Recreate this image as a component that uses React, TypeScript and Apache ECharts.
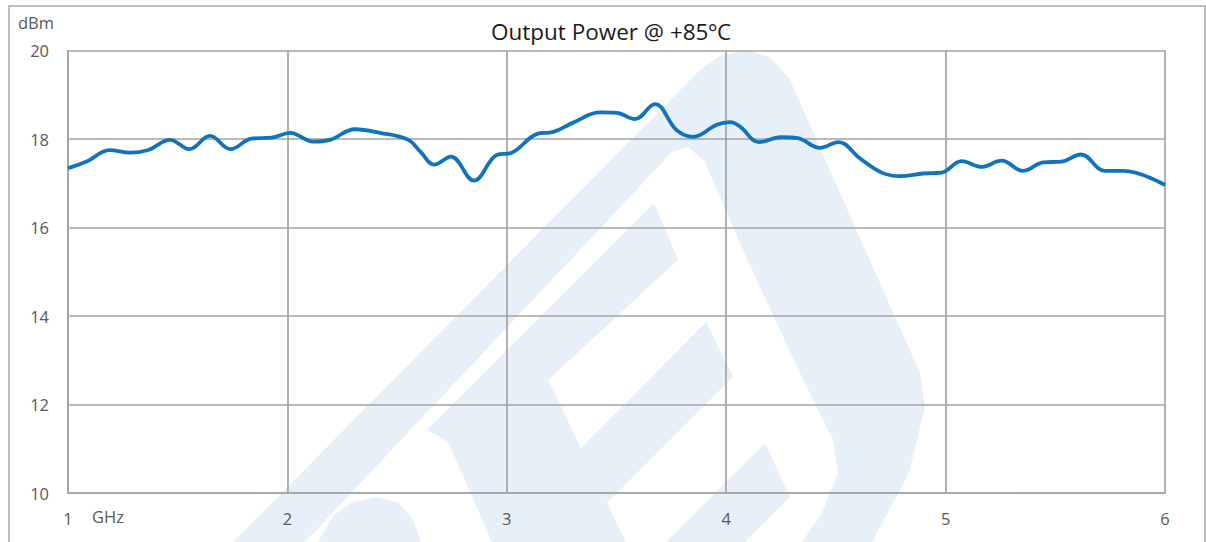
import React, { useEffect, useRef } from "react";
import * as echarts from "echarts";

const freqGHz = [
  1.0, 1.085, 1.19, 1.283, 1.366, 1.465, 1.553, 1.647, 1.741, 1.837, 1.928,
  2.012, 2.118, 2.194, 2.308, 2.422, 2.551, 2.605, 2.67, 2.745, 2.85, 2.954,
  3.022, 3.136, 3.212, 3.303, 3.425, 3.501, 3.584, 3.675, 3.774, 3.85, 3.957,
  4.017, 4.063, 4.15, 4.25, 4.325, 4.427, 4.511, 4.61, 4.709, 4.792, 4.898,
  4.982, 5.073, 5.164, 5.256, 5.351, 5.445, 5.529, 5.617, 5.726, 5.81, 6.0,
];
const powerDbm = [
  17.34, 17.49, 17.75, 17.69, 17.75, 17.98, 17.77, 18.07, 17.77, 18.01, 18.03,
  18.14, 17.94, 17.98, 18.22, 18.14, 17.98, 17.72, 17.42, 17.6, 17.06, 17.64,
  17.69, 18.11, 18.16, 18.37, 18.6, 18.59, 18.45, 18.79, 18.2, 18.05, 18.32,
  18.38, 18.28, 17.93, 18.04, 18.02, 17.8, 17.93, 17.56, 17.24, 17.16, 17.22,
  17.24, 17.5, 17.37, 17.51, 17.28, 17.47, 17.49, 17.65, 17.28, 17.28, 16.96,
];
const xTicks = [1, 2, 3, 4, 5, 6];
const yTicks = [10, 12, 14, 16, 18, 20];
const titleText = "Output Power @ +85ºC";
const yUnit = "dBm";
const xUnit = "GHz";

const FONT = "'Open Sans', 'Noto Sans', sans-serif";
const WM = "#e7eff8";
const LBL = 16.5;

export default function App() {
  const ref = useRef<HTMLDivElement>(null);
  useEffect(() => {
    document.body.style.margin = "0";
    if (!ref.current) return;
    const chart = echarts.init(ref.current, undefined, { renderer: "svg" });
    const data = freqGHz.map((f, i) => [f, powerDbm[i]]);
    chart.setOption({
      animation: false,
      backgroundColor: "#ffffff",
      title: {
        text: titleText,
        left: 606,
        top: 15,
        textAlign: "center",
        textStyle: { fontFamily: FONT, fontSize: 22.5, fontWeight: "normal", color: "#1a1a1a" },
      },
      grid: { left: 68, top: 50.5, right: 41, bottom: 49, containLabel: false },
      xAxis: {
        type: "value",
        min: xTicks[0],
        max: xTicks[xTicks.length - 1],
        interval: 1,
        axisLine: { show: true, lineStyle: { color: "#a3a3a3", width: 1.7 } },
        axisTick: { show: false },
        splitLine: { show: true, lineStyle: { color: "#a3a3a3", width: 1.7 } },
        axisLabel: { margin: 17, fontFamily: FONT, fontSize: LBL, color: "#595959" },
      },
      yAxis: {
        type: "value",
        min: yTicks[0],
        max: yTicks[yTicks.length - 1],
        interval: 2,
        axisLine: { show: true, lineStyle: { color: "#a3a3a3", width: 1.7 } },
        axisTick: { show: false },
        splitLine: { show: true, lineStyle: { color: "#a3a3a3", width: 1.7 } },
        axisLabel: { margin: 19, fontFamily: FONT, fontSize: LBL, color: "#595959" },
      },
      graphic: [
        {
          type: "rect",
          z: -10,
          silent: true,
          shape: { x: 9, y: 6, width: 1196, height: 600 },
          style: { fill: "none", stroke: "#a6a6a6", lineWidth: 1.5 },
        },
        {
          type: "polygon",
          z: -10,
          silent: true,
          shape: {
            points: [
              [233, 542], [700, 70], [720, 56], [746, 50], [770, 57], [790, 80],
              [855, 227], [920, 373], [925, 407], [909, 473], [872, 542],
              [802, 542], [822, 513], [838, 473], [833, 440], [800, 373],
              [746, 257], [705, 162], [688, 147], [672, 152], [305, 542],
            ],
          },
          style: { fill: WM },
        },
        {
          type: "polygon",
          z: -10,
          silent: true,
          shape: {
            points: [
              [427, 430], [654, 203], [678, 260], [548, 380], [581, 448],
              [706, 322], [733, 377], [607, 503], [626, 542], [492, 542], [448, 442],
            ],
          },
          style: { fill: WM },
        },
        {
          type: "polygon",
          z: -10,
          silent: true,
          shape: { points: [[666, 542], [765, 443], [790, 497], [745, 542]] },
          style: { fill: WM },
        },
        {
          type: "polygon",
          z: -10,
          silent: true,
          shape: {
            points: [
              [318, 542], [333, 516], [352, 502], [378, 497], [399, 503], [413, 520], [421, 542],
            ],
          },
          style: { fill: WM },
        },
        {
          type: "text",
          left: 18,
          top: 14,
          style: { text: yUnit, fontFamily: FONT, fontSize: LBL, fill: "#595959" },
        },
        {
          type: "text",
          left: 92,
          top: 508,
          style: { text: xUnit, fontFamily: FONT, fontSize: LBL, fill: "#595959" },
        },
      ],
      series: [
        {
          type: "line",
          data,
          smooth: 0.4,
          showSymbol: false,
          lineStyle: { color: "#0f74bb", width: 3.8 },
          z: 5,
        },
      ],
    });
    return () => chart.dispose();
  }, []);
  return <div ref={ref} style={{ width: 1206, height: 542 }} />;
}
